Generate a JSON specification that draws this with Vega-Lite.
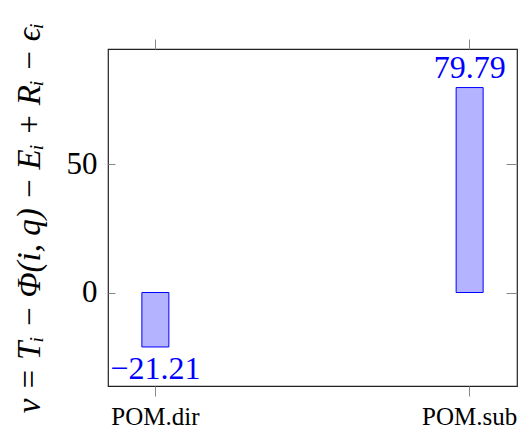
{
  "$schema": "https://vega.github.io/schema/vega-lite/v6.json",
  "width": 409,
  "height": 337,
  "autosize": "none",
  "padding": {"left": 108, "top": 49, "right": 6, "bottom": 45},
  "background": "white",
  "config": {
    "view": {"stroke": "#222", "strokeWidth": 1.2},
    "font": "Liberation Serif",
    "axis": {"grid": false, "domain": false, "tickColor": "#888", "tickWidth": 1, "labelColor": "#000", "labelFont": "Liberation Serif"}
  },
  "data": {
    "values": [
      {"cat": "POM.dir", "v": -21.21, "label": "−21.21"},
      {"cat": "POM.sub", "v": 79.79, "label": "79.79"}
    ]
  },
  "resolve": {"scale": {"x": "independent", "y": "independent"}},
  "layer": [
    {
      "encoding": {
        "x": {
          "field": "cat", "type": "nominal",
          "scale": {"type": "band", "paddingInner": 0.9, "paddingOuter": 0.1007},
          "axis": {"orient": "bottom", "title": null, "labelAngle": 0, "tickSize": 10, "labelPadding": 8, "labelFontSize": 25, "labelBaseline": "top"}
        },
        "y": {
          "field": "v", "type": "quantitative",
          "scale": {"domain": [-36.4, 94.8], "nice": false, "zero": false},
          "axis": {
            "orient": "left", "values": [0, 50], "tickSize": -7, "labelPadding": 18, "labelFontSize": 31,
            "title": "v = Tᵢ − Φ(i, q) − Eᵢ + Rᵢ − ϵᵢ",
            "titleFont": "Liberation Serif", "titleFontStyle": "italic", "titleFontWeight": "normal",
            "titleFontSize": 33, "titleColor": "#000", "titlePadding": 20
          }
        }
      },
      "layer": [
        {
          "mark": {"type": "bar", "width": 27, "fill": "#b3b3ff", "stroke": "#0000ff", "strokeWidth": 1},
          "encoding": {"y2": {"datum": 0}}
        },
        {
          "transform": [{"filter": "datum.v >= 0"}],
          "mark": {"type": "text", "fontSize": 32, "color": "#0000ff", "baseline": "alphabetic", "dy": -10, "font": "Liberation Serif"},
          "encoding": {"text": {"field": "label"}}
        },
        {
          "transform": [{"filter": "datum.v < 0"}],
          "mark": {"type": "text", "fontSize": 32, "color": "#0000ff", "baseline": "alphabetic", "dy": 32, "font": "Liberation Serif"},
          "encoding": {"text": {"field": "label"}}
        }
      ]
    },
    {
      "mark": {"type": "point", "opacity": 0},
      "encoding": {
        "x": {
          "field": "cat", "type": "nominal",
          "scale": {"type": "band", "paddingInner": 0.9, "paddingOuter": 0.1007},
          "axis": {"orient": "top", "title": null, "labels": false, "tickSize": 10}
        },
        "y": {
          "field": "v", "type": "quantitative",
          "scale": {"domain": [-36.4, 94.8], "nice": false, "zero": false},
          "axis": {"orient": "right", "title": null, "labels": false, "values": [0, 50], "tickSize": -11}
        }
      }
    }
  ]
}
